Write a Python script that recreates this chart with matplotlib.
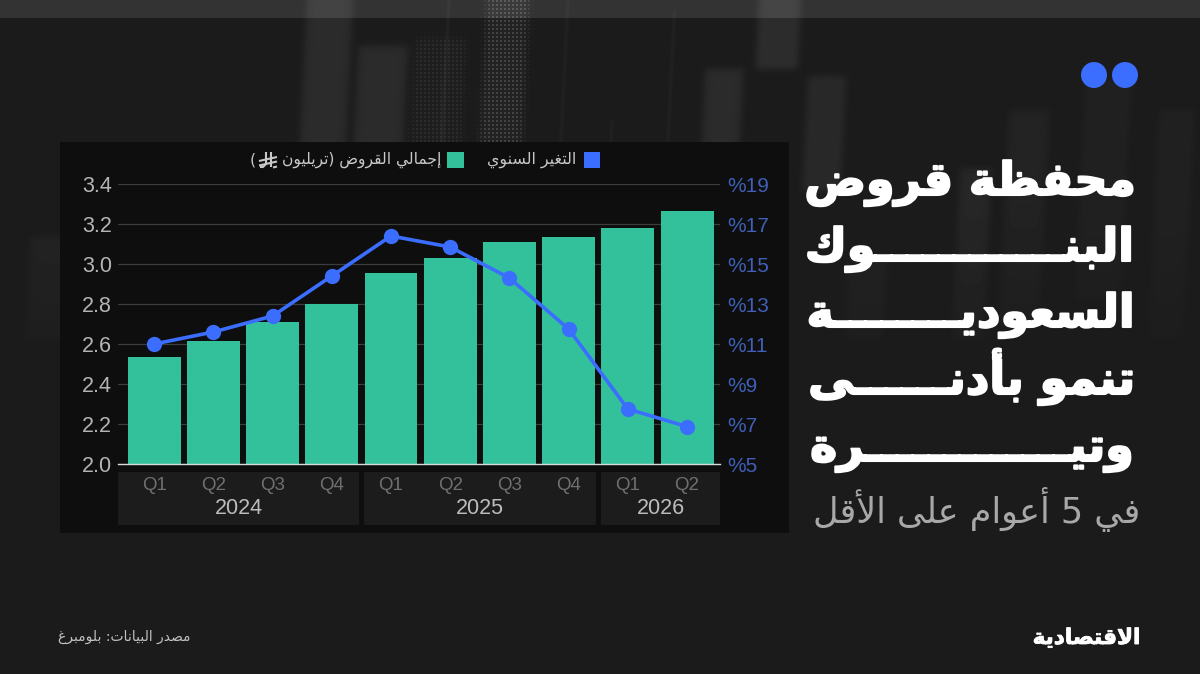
import matplotlib
matplotlib.use('Agg')
import matplotlib.pyplot as plt
from matplotlib.patches import Rectangle, Circle
from matplotlib.transforms import blended_transform_factory
import matplotlib.patheffects as pe
import numpy as np

# quarterly loan book (trillion riyal) and its yearly change (%)
quarters = ['Q1', 'Q2', 'Q3', 'Q4', 'Q1', 'Q2', 'Q3', 'Q4', 'Q1', 'Q2']
loans = [2.535, 2.615, 2.71, 2.80, 2.957, 3.03, 3.11, 3.137, 3.18, 3.263]
yearly_change = [11.0, 11.6, 12.4, 14.4, 16.4, 15.85, 14.3, 11.75, 7.75, 6.87]
years = ['2024', '2025', '2026']
quarters_per_year = [4, 4, 2]
left_ticks = [2.0, 2.2, 2.4, 2.6, 2.8, 3.0, 3.2, 3.4]
right_ticks = [5, 7, 9, 11, 13, 15, 17, 19]

KASHIDA = 'ـ'
title_lines = ['محفظة قروض', 'البن' + KASHIDA * 12 + 'وك', 'السعودي' + KASHIDA * 8 + 'ة',
               'تنمو بأدن' + KASHIDA * 6 + 'ى', 'وتي' + KASHIDA * 13 + 'رة']
subtitle = 'في 5 أعوام على الأقل'
legend_loans = 'إجمالي القروض (تريليون'
legend_change = 'التغير السنوي'
source = 'مصدر البيانات: بلومبرغ'
brand = 'الاقتصادية'

# faint candles behind everything: x0, x1, y0, y1, brightness, dotted
candles = [(302, 348, -10, 330, 16, 0), (356, 405, 46, 214, 16, 0), (413, 463, 38, 287, 10, 1),
           (482, 524, -10, 145, 22, 1), (532, 574, 203, 256, 20, 1), (585, 627, 256, 306, 20, 1),
           (704, 742, 69, 340, 16, 0), (754, 796, -10, 69, 18, 0), (807, 845, 76, 191, 14, 0),
           (964, 995, 168, 340, 12, 0), (1010, 1050, 110, 330, 8, 0), (857, 895, 260, 340, 10, 0),
           (38, 88, 237, 340, 10, 0), (1085, 1130, 80, 300, 6, 0), (1160, 1195, 110, 340, 6, 0),
           (443, 445, -10, 300, 12, 0), (562, 564, -10, 300, 10, 0), (669, 671, 10, 300, 10, 0),
           (612, 614, 120, 300, 10, 0)]

# unicode presentation forms for arabic letters: isolated code and number of forms
forms = {'ء': (0xFE80, 1), 'آ': (0xFE81, 2), 'أ': (0xFE83, 2), 'ؤ': (0xFE85, 2), 'إ': (0xFE87, 2),
         'ئ': (0xFE89, 4), 'ا': (0xFE8D, 2), 'ب': (0xFE8F, 4), 'ة': (0xFE93, 2), 'ت': (0xFE95, 4),
         'ث': (0xFE99, 4), 'ج': (0xFE9D, 4), 'ح': (0xFEA1, 4), 'خ': (0xFEA5, 4), 'د': (0xFEA9, 2),
         'ذ': (0xFEAB, 2), 'ر': (0xFEAD, 2), 'ز': (0xFEAF, 2), 'س': (0xFEB1, 4), 'ش': (0xFEB5, 4),
         'ص': (0xFEB9, 4), 'ض': (0xFEBD, 4), 'ط': (0xFEC1, 4), 'ظ': (0xFEC5, 4), 'ع': (0xFEC9, 4),
         'غ': (0xFECD, 4), 'ف': (0xFED1, 4), 'ق': (0xFED5, 4), 'ك': (0xFED9, 4), 'ل': (0xFEDD, 4),
         'م': (0xFEE1, 4), 'ن': (0xFEE5, 4), 'ه': (0xFEE9, 4), 'و': (0xFEED, 2), 'ى': (0xFEEF, 2),
         'ي': (0xFEF1, 4)}
lam_alef = {'ا': 0xFEFB, 'أ': 0xFEF7, 'إ': 0xFEF9, 'آ': 0xFEF5}


def shape(text):
    # matplotlib has no arabic shaping, so pick joined forms and lay out right to left
    out = []
    i = 0
    prev_joins = False
    while i < len(text):
        c = text[i]
        if c == 'ل' and i + 1 < len(text) and text[i + 1] in lam_alef:
            out.append(chr(lam_alef[text[i + 1]] + (1 if prev_joins else 0)))
            prev_joins = False
            i += 2
            continue
        if c == KASHIDA:
            out.append(c)
            prev_joins = True
        elif c in forms:
            base, n = forms[c]
            nxt = text[i + 1] if i + 1 < len(text) else ''
            next_joins = n == 4 and (nxt in forms or nxt == KASHIDA)
            if n == 1:
                out.append(chr(base))
            elif prev_joins and next_joins:
                out.append(chr(base + 3))
            elif next_joins:
                out.append(chr(base + 2))
            elif prev_joins:
                out.append(chr(base + 1))
            else:
                out.append(chr(base))
            prev_joins = next_joins
        else:
            out.append(c)
            prev_joins = False
        i += 1
    # digits stay left to right, brackets mirror
    runs = []
    for c in reversed(out):
        if c.isdigit() and runs and runs[-1][-1].isdigit():
            runs[-1] = c + runs[-1]
        else:
            runs.append({'(': ')', ')': '('}.get(c, c))
    return ''.join(runs)


fig = plt.figure(figsize=(12, 6.74), dpi=100, facecolor='#1b1b1b')

# full page layer in pixel coordinates
bg = fig.add_axes([0, 0, 1, 1])
bg.axis('off')

xx, yy = np.meshgrid(np.arange(1200) + 0.5, np.arange(674) + 0.5)
glow = np.zeros(xx.shape)
dots = (xx.astype(int) % 4 < 2) & (yy.astype(int) % 4 < 2)
for x0, x1, y0, y1, level, dotted in candles:
    slant = (yy - 100) * -0.05
    soft = 1.5 if x1 - x0 < 5 else 4.0
    shade = level * 0.25 * (1 + np.tanh((xx - slant - x0) / soft)) * (1 + np.tanh((x1 - xx + slant) / soft)) \
        * 0.25 * (1 + np.tanh((yy - y0) / soft)) * (1 + np.tanh((y1 - yy) / soft))
    if dotted:
        shade = shade * (0.35 + 1.5 * dots)
    glow += shade
glow *= np.clip((400 - yy) / 200, 0, 1)
page = 27 + glow
page[:18] += 24
bg.imshow(page, cmap='gray', vmin=0, vmax=255, extent=(0, 1200, 674, 0), aspect='auto', zorder=0)
bg.set_xlim(0, 1200)
bg.set_ylim(674, 0)

bg.add_patch(Rectangle((60, 142), 729, 391, color='#0e0e0e', lw=0, zorder=1))
bg.add_patch(Circle((1094, 75), 13, color='#3b6eff', lw=0, zorder=2))
bg.add_patch(Circle((1125, 75), 13, color='#3b6eff', lw=0, zorder=2))

# chart axes, the page layer stays underneath
ax = fig.add_axes([118 / 1200, 1 - 464 / 674, 602 / 1200, 280 / 674])
ax.patch.set_alpha(0)
x = np.arange(len(loans))
ax.bar(x, loans, width=0.895, color='#33c19c', zorder=2)
ax.set_xlim(-0.611, 9.557)
ax.set_ylim(2.0, 3.4)
ax.set_yticks(left_ticks)
ax.set_yticklabels(['%.1f' % v for v in left_ticks], fontfamily='Liberation Sans', fontsize=15.5, color='#b4b4b4')
ax.set_xticks(x)
ax.set_xticklabels(quarters, fontfamily='Liberation Sans', fontsize=13.5, color='#6f6f6f')
ax.tick_params(axis='y', length=0, pad=4.5)
ax.tick_params(axis='x', length=0, pad=9.5)
ax.grid(axis='y', color='#3c3c3c', lw=0.9, zorder=1)
for name in ['top', 'left', 'right']:
    ax.spines[name].set_visible(False)
ax.spines['bottom'].set_color('#d5ddd8')
ax.spines['bottom'].set_linewidth(1.0)
ax.spines['bottom'].set_zorder(3)

ax2 = ax.twinx()
ax2.patch.set_alpha(0)
ax2.plot(x, yearly_change, color='#3b6eff', lw=2.6, marker='o', ms=11, mew=0, zorder=3)
ax2.set_ylim(5, 19)
ax2.set_yticks(right_ticks)
ax2.set_yticklabels(['%' + str(v) for v in right_ticks], fontfamily='Liberation Sans', fontsize=15,
                    color='#3f5fb8')
ax2.tick_params(axis='y', length=0, pad=5)
for name in ['top', 'left', 'right', 'bottom']:
    ax2.spines[name].set_visible(False)

# year blocks under the quarter labels
trans = blended_transform_factory(ax.transData, bg.transData)
start = 0
for year, count in zip(years, quarters_per_year):
    x0 = -0.611 if start == 0 else start - 0.45
    x1 = 9.557 if start + count == len(loans) else start + count - 1 + 0.46
    bg.add_patch(Rectangle((x0, 472), x1 - x0, 53, transform=trans, color='#1c1c1c', lw=0, zorder=1.5))
    bg.text((x0 + x1) / 2, 509, year, transform=trans, ha='center', va='center', family='Liberation Sans',
            fontsize=15.5, color='#bcbcbc', zorder=3)
    start += count

# legend
bg.add_patch(Rectangle((584, 152), 16, 16, color='#3b6eff', lw=0, zorder=3))
bg.add_patch(Rectangle((447, 152), 17, 16, color='#33c19c', lw=0, zorder=3))
bg.text(576, 160, shape(legend_change), ha='right', va='center', family='DejaVu Sans', fontsize=11.4,
        color='#c8c8c8', zorder=3)
bg.text(441, 160, shape(legend_loans), ha='right', va='center', family='DejaVu Sans', fontsize=11.2,
        color='#c8c8c8', zorder=3)
bg.text(250, 160, '(', ha='left', va='center', family='DejaVu Sans', fontsize=11.2, color='#c8c8c8', zorder=3)
# riyal sign, no installed font has it
riyal_strokes = [([266, 266, 263, 260], [152, 164, 167, 167]), ([271, 271], [152, 167]),
                 ([259, 277], [161, 157]), ([259, 277], [165.5, 161.5]), ([273, 277], [167.5, 166.5])]
for sx, sy in riyal_strokes:
    bg.plot(sx, sy, color='#c8c8c8', lw=1.5, solid_capstyle='butt', zorder=3)
bg.set_xlim(0, 1200)
bg.set_ylim(674, 0)

# headline block
title_fx = [pe.withStroke(linewidth=1.5, foreground='white')]
for line, base in zip(title_lines, [195, 261, 327, 394, 461]):
    bg.text(1137, base, shape(line), ha='right', va='baseline', family='DejaVu Sans', weight='bold',
            fontsize=33, color='white', path_effects=title_fx, zorder=3)
bg.text(1140, 523, shape(subtitle), ha='right', va='baseline', family='DejaVu Sans', fontsize=25.2,
        color='#a8a8a8', zorder=3)
bg.text(58, 641, shape(source), ha='left', va='baseline', family='DejaVu Sans', fontsize=10,
        color='#c0c0c0', zorder=3)
bg.text(1140, 644, shape(brand), ha='right', va='baseline', family='DejaVu Sans', weight='bold',
        fontsize=15.5, color='white', path_effects=[pe.withStroke(linewidth=0.6, foreground='white')], zorder=3)

fig.savefig('out.png', dpi=100)
